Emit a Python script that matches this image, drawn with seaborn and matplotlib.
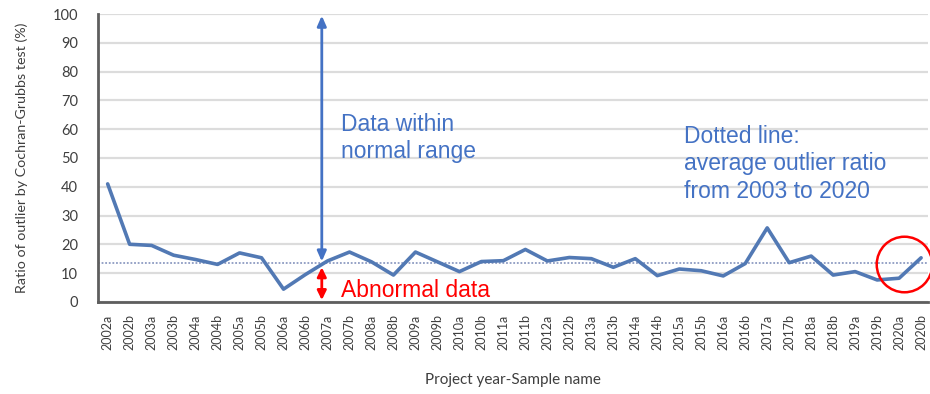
import matplotlib
matplotlib.use("Agg")
import matplotlib.pyplot as plt
import seaborn as sns
import pandas as pd

# Project year / sample names
samples = [f"{y}{s}" for y in range(2002, 2021) for s in ("a", "b")]

# Share of outliers flagged by the Cochran-Grubbs test (%)
outlier_ratio = [
    41.0, 20.0, 19.6, 16.2, 14.7, 13.0, 17.0, 15.3, 4.4, 9.5,
    14.2, 17.3, 13.9, 9.3, 17.3, 13.9, 10.5, 14.0, 14.3, 18.2,
    14.2, 15.4, 15.0, 12.0, 15.0, 9.1, 11.4, 10.8, 9.0, 13.3,
    25.7, 13.6, 15.9, 9.3, 10.5, 7.6, 8.2, 15.3,
]

# Average outlier ratio, 2003-2020
average_ratio = 13.4

y_ticks = list(range(0, 101, 10))

df = pd.DataFrame({"sample": samples, "ratio": outlier_ratio})

sns.set_theme(style="white")
plt.rcParams["font.family"] = ["Lato", "DejaVu Sans"]

fig = plt.figure(figsize=(9.3, 3.94), dpi=100)
ax = fig.add_axes([0.105, 0.234, 0.893, 0.730])

ax.set_ylim(0, 100)
ax.set_yticks(y_ticks)
ax.yaxis.grid(True, color="#DCDCDC", linewidth=1.6)
ax.set_axisbelow(True)

# Average line (dotted)
ax.axhline(average_ratio, color="#8D9BC2", linestyle=(0, (1, 1)), linewidth=1.3, zorder=2)

sns.lineplot(data=df, x="sample", y="ratio", ax=ax, sort=False,
             color="#5279B4", linewidth=2.6, zorder=3)

ax.set_xlim(-0.455, 37.32)

for side in ("top", "right"):
    ax.spines[side].set_visible(False)
for side in ("left", "bottom"):
    ax.spines[side].set_color("#5E5E5E")
    ax.spines[side].set_linewidth(2.0)

ax.tick_params(axis="y", direction="in", length=4, width=1.2, color="#5E5E5E",
               labelsize=10.5, labelcolor="#3F3F3F", pad=14)
ax.tick_params(axis="x", length=0, labelsize=9.0, labelcolor="#3F3F3F",
               labelrotation=90, pad=9)

ax.set_xlabel("Project year-Sample name", fontsize=11, color="#3F3F3F", labelpad=16)
ax.set_ylabel("Ratio of outlier by Cochran-Grubbs test (%)", fontsize=10.3,
              color="#3F3F3F", labelpad=18)

# Range arrows
arrow_x = 9.74
ax.annotate("", xy=(arrow_x, 99.5), xytext=(arrow_x, 14.0),
            arrowprops=dict(arrowstyle="<|-|>,head_length=0.5,head_width=0.22",
                            color="#4472C4", lw=2.0, shrinkA=0, shrinkB=0),
            zorder=4)
ax.annotate("", xy=(arrow_x, 12.0), xytext=(arrow_x, 0.6),
            arrowprops=dict(arrowstyle="<|-|>,head_length=0.45,head_width=0.22",
                            color="#FF0000", lw=2.0, shrinkA=0, shrinkB=0),
            zorder=4)

ann_font = ["Liberation Sans", "DejaVu Sans"]
ax.text(10.6, 65.5, "Data within\nnormal range", fontsize=16.5, color="#4472C4",
        family=ann_font, va="top", ha="left", linespacing=1.2)
ax.text(10.6, 4.0, "Abnormal data", fontsize=16.5, color="#FF0000",
        family=ann_font, va="center", ha="left")
ax.text(26.2, 61.5, "Dotted line:\naverage outlier ratio\nfrom 2003 to 2020",
        fontsize=16.5, color="#4472C4", family=ann_font, va="top", ha="left",
        linespacing=1.25)

# Highlight the last samples
ax.plot([36.2], [13.3], marker="o", markersize=40, markerfacecolor="none",
        markeredgecolor="#FF0000", markeredgewidth=1.8, clip_on=False, zorder=5)

fig.savefig("out.png", dpi=100)
